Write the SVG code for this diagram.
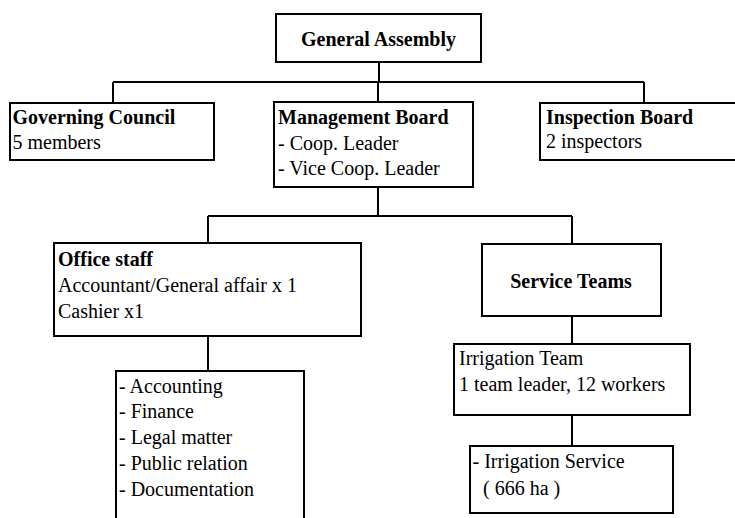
<svg xmlns="http://www.w3.org/2000/svg" width="735" height="518" viewBox="0 0 735 518">
  <style>
    .box { fill: #ffffff; stroke: #000000; stroke-width: 2; }
    .wire { fill: none; stroke: #000000; stroke-width: 2; }
    text { font-family: "Liberation Serif", "Times New Roman", serif; font-size: 20px; fill: #000000; }
    .b { font-weight: bold; }
    .c { text-anchor: middle; }
  </style>
  <rect width="735" height="518" fill="#ffffff"/>

  <!-- connectors -->
  <g id="connectors">
    <path class="wire" d="M379,62 V82 M113,82 H644 M113,82 V103 M644,82 V103 M378,82 V102"/>
    <path class="wire" d="M378,187 V216 M208,216 H572 M208,216 V243 M572,216 V244"/>
    <path class="wire" d="M208,336 V371"/>
    <path class="wire" d="M572,316 V344 M572,415 V446"/>
  </g>

  <g id="general-assembly">
    <rect class="box" x="276" y="14" width="205" height="48"/>
    <text class="b c" x="378.5" y="46">General Assembly</text>
  </g>

  <g id="governing-council">
    <rect class="box" x="10" y="103" width="204" height="57"/>
    <text class="b" x="12.5" y="124">Governing Council</text>
    <text x="12.5" y="149">5 members</text>
  </g>

  <g id="management-board">
    <rect class="box" x="274" y="102" width="199" height="85"/>
    <text class="b" x="278" y="124">Management Board</text>
    <text x="278" y="150">- Coop. Leader</text>
    <text x="278" y="175">- Vice Coop. Leader</text>
  </g>

  <g id="inspection-board">
    <rect class="box" x="540" y="103" width="210" height="57"/>
    <text class="b" x="546" y="124">Inspection Board</text>
    <text x="546" y="148">2 inspectors</text>
  </g>

  <g id="office-staff">
    <rect class="box" x="54" y="243" width="307" height="93"/>
    <text class="b" x="58" y="266">Office staff</text>
    <text x="58" y="292">Accountant/General affair x 1</text>
    <text x="58" y="318">Cashier x1</text>
  </g>

  <g id="office-duties">
    <rect class="box" x="116" y="371" width="188" height="170"/>
    <text x="119" y="393">- Accounting</text>
    <text x="119" y="418">- Finance</text>
    <text x="119" y="444">- Legal matter</text>
    <text x="119" y="470">- Public relation</text>
    <text x="119" y="496">- Documentation</text>
  </g>

  <g id="service-teams">
    <rect class="box" x="482" y="244" width="179" height="72"/>
    <text class="b c" x="571" y="288">Service Teams</text>
  </g>

  <g id="irrigation-team">
    <rect class="box" x="454" y="344" width="236" height="71"/>
    <text x="459" y="365">Irrigation Team</text>
    <text x="459" y="391">1 team leader, 12 workers</text>
  </g>

  <g id="irrigation-service">
    <rect class="box" x="470" y="446" width="203" height="67"/>
    <text x="472.5" y="468">- Irrigation Service</text>
    <text x="483" y="495">( 666 ha )</text>
  </g>
</svg>
